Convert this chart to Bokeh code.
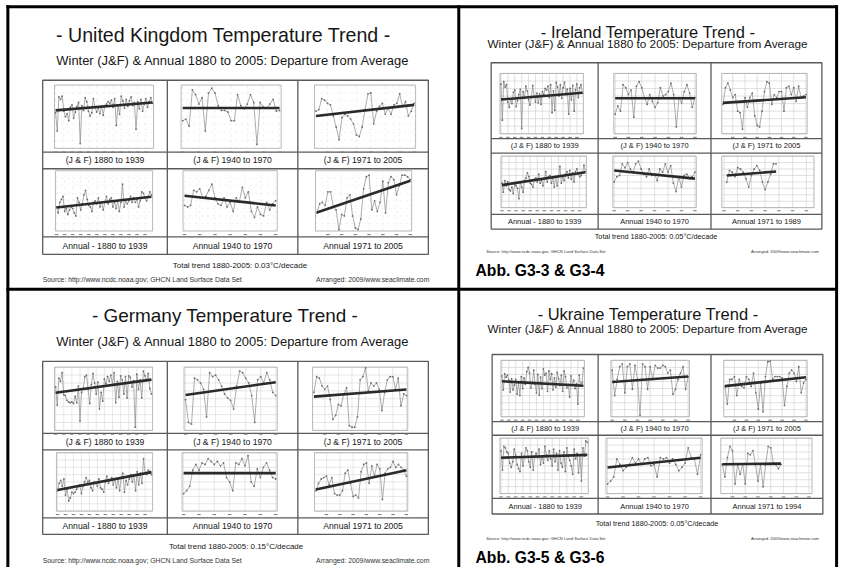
from bokeh.plotting import figure
from bokeh.models import Range1d
from bokeh.core.properties import value
from bokeh.embed import file_html
from bokeh.resources import INLINE

FONT = "Liberation Sans"
S = 841.0 / 857.0          # the 857x583 reference is drawn into an 841x567 figure

# ---------------- data (departure from average, deg C) ----------------
WINTER_RANGE = (-5.0, 3.0)
ANNUAL_RANGE = (-2.5, 1.5)
FIRST_YEARS = [1880, 1940, 1971]

JF_LABELS = ["(J & F) 1880 to 1939", "(J & F) 1940 to 1970", "(J & F) 1971 to 2005"]
UK_AN_LABELS = ["Annual - 1880 to 1939", "Annual 1940 to 1970", "Annual 1971 to 2005"]
IE_AN_LABELS = ["Annual - 1880 to 1939", "Annual 1940 to 1970", "Annual 1971 to 1989"]
DE_AN_LABELS = ["Annual - 1880 to 1939", "Annual 1940 to 1970", "Annual 1971 to 2005"]
UA_AN_LABELS = ["Annual - 1880 to 1939", "Annual 1940 to 1970", "Annual 1971 to 1994"]

TOTAL_TRENDS = {"UK": "0.03", "IE": "0.05", "DE": "0.15", "UA": "0.05"}

# United Kingdom
UK_JF_1 = [-0.5, -2.8, 1.5, 1.2, 1.6, -0.3, -1.0, -0.6, -1.5, 0.2,
           0.5, -1.2, -0.4, 0.3, 0.8, -4.4, 0.4, -0.2, 1.4, 0.9,
           -0.3, -0.9, -0.5, 1.3, 0.2, -0.4, 0.1, -0.6, 0.3, -0.8,
           0.4, 0.6, 0.9, 0.7, 1.1, 0.2, 1.3, -2.1, 0.5, -0.7,
           1.6, 1.0, 0.1, 1.2, 0.3, 1.0, 1.5, 0.4, 0.8, -2.6,
           0.9, 0.0, 1.2, -0.3, 0.6, 1.3, 0.2, 0.9, 1.4, 0.7]
UK_JF_2 = [-1.5, -1.3, -2.2, 2.4, 1.8, 0.6, 1.4, -2.8, 2.0, 2.6,
           2.0, 0.4, -0.2, -0.2, -0.4, -1.5, -1.5, 1.8, 0.4, 0.0,
           0.6, 1.8, 0.8, -4.5, 0.8, 0.2, 0.1, 0.6, 1.2, -0.3, -0.2]
UK_JF_3 = [-0.3, -0.1, 1.3, 1.1, 0.7, 0.5, -0.9, -2.3, -3.9, -1.1,
           -0.7, -0.9, -1.3, -1.9, -3.3, -3.5, -2.3, -0.1, 1.9, 2.0,
           -1.9, -0.3, 0.3, 0.7, -0.7, 0.1, -0.7, 0.5, 0.7, 1.9,
           0.3, 0.9, -0.9, -0.3, 0.7]
UK_AN_1 = [-0.9, -1.3, -0.6, -0.4, -0.2, -1.2, -1.0, -1.4, -1.1, -0.9,
           -1.0, -1.3, -1.5, -0.3, -0.6, -1.1, -0.7, -0.1, 0.2, -0.4,
           -0.8, -0.9, -1.2, -0.6, -0.5, -0.7, -0.3, -0.9, -0.6, -1.1,
           -0.6, -0.2, -0.7, -0.4, -0.3, -0.9, -0.6, -1.0, -0.5, -1.2,
           -0.6, 0.6, -0.9, -0.5, -0.7, -0.5, -0.2, -0.6, -0.3, -0.6,
           -0.4, -0.9, -0.5, 0.1, 0.0, -0.3, -0.5, -0.2, 0.1, -0.1]
UK_AN_2 = [-0.8, -0.9, -0.8, 0.2, 0.1, 0.3, -0.3, -0.2, 0.2, 0.6,
           -0.3, -0.7, -0.8, -0.3, -0.9, -0.6, -1.2, -0.3, -0.6, 0.4,
           -0.3, 0.1, -1.2, -1.6, -0.9, -1.4, -1.5, -0.6, -1.1, -0.7, -0.5]
UK_AN_3 = [-1.3, -0.7, -0.6, -0.8, 0.1, 0.1, -0.9, -1.1, -2.4, -1.4,
           -1.5, -0.3, -0.1, -1.5, -2.3, -2.4, -1.7, 0.3, 1.1, 1.2,
           -1.1, -0.5, -1.2, -0.6, 0.8, -1.3, 0.7, 1.1, 0.9, -0.1,
           0.5, 1.2, 1.2, 1.1, 0.9]
UK_TREND_START = [-0.2, 0.1, -0.9, -0.94, -0.16, -1.28]
UK_TREND_END = [0.8, 0.1, 0.5, -0.23, -0.81, 0.83]

# Ireland
IE_JF_1 = [1.6, -3.2, 1.9, 1.2, 1.5, -0.8, -1.5, -0.4, -1.0, 0.5,
           0.8, -1.4, -0.6, 0.2, 0.9, -4.3, 0.6, -0.3, 1.3, 0.7,
           -0.5, -1.2, -0.2, 1.4, 0.0, -0.8, 0.4, -0.9, 0.3, -1.1,
           0.6, 0.2, 1.0, 0.8, 1.3, -0.2, 1.5, -2.2, 0.7, -1.9,
           1.8, 1.2, 0.0, 1.5, -0.3, 1.1, 1.8, 0.2, 0.9, -2.4,
           1.0, -0.5, 1.4, -2.0, 0.8, 1.6, -0.2, 1.1, 1.5, 0.4]
IE_JF_2 = [-2.4, -1.3, -2.0, 1.5, 1.1, 0.2, 0.8, -2.8, 1.3, 1.9,
           1.1, -0.2, -1.1, 0.2, -0.7, -1.5, -0.9, 1.1, 0.0, 0.2,
           0.6, 1.7, 0.2, -4.1, -0.2, -0.9, 0.6, 1.5, 0.4, -1.5, -0.2]
IE_JF_3 = [-1.1, 1.1, 1.7, 0.8, -0.2, 0.2, -2.0, -2.2, -4.4, -0.2,
           -1.5, -0.2, 0.4, -2.6, -3.9, -4.1, -2.0, 0.6, 1.9, 1.7,
           -1.1, 0.2, -0.2, 0.6, 0.6, -2.0, 1.1, 1.3, 0.2, 1.1,
           -0.7, 1.3, -0.2, 0.0, 0.2]
IE_AN_1 = [-0.6, -1.3, -0.4, -0.8, -0.5, -1.1, -1.2, -0.9, -1.4, -0.7,
           -0.8, -1.0, -1.8, -0.5, -0.9, -1.3, -0.4, -0.2, 0.2, -0.1,
           -0.6, -0.7, -0.9, -0.3, -0.2, -0.5, 0.1, -0.6, -0.4, -0.8,
           -0.3, 0.3, -0.5, -0.1, 0.0, -0.6, -0.2, -0.9, -0.1, -0.8,
           -0.1, 0.7, -0.6, -0.1, -0.4, 0.1, 0.3, -0.2, 0.4, -0.3,
           0.2, -0.5, 0.3, 0.5, 0.1, -0.1, 0.0, 0.2, 0.8, 0.3]
IE_AN_2 = [-0.5, -0.1, 0.0, 0.9, 0.6, 1.0, 0.5, 0.25, 0.9, 1.1,
           0.5, 0.1, -0.1, 0.5, 0.0, 0.1, -0.4, 0.5, 0.25, 0.9,
           0.25, 0.75, -0.6, -1.25, -0.1, -0.9, 0.0, 0.1, -0.25, -0.1, 0.25]
IE_AN_3 = [-0.5, 0.4, 0.25, -0.1, 0.6, 0.5, 0.25, -0.25, -0.9, 0.0,
           0.5, 0.75, 0.4, -0.5, -1.1, -0.5, 0.1, 0.9, 0.9]
IE_TREND_START = [-0.46, -0.3, -0.9, -0.75, 0.38, 0.0]
IE_TREND_END = [0.43, -0.3, -0.16, 0.25, -0.25, 0.3]

# Germany
DE_JF_1 = [0.5, -1.8, 1.6, 1.2, 2.3, -0.5, -0.6, -1.2, -1.4, -1.5,
           -1.4, -1.6, -0.7, -1.5, 0.6, -3.8, -0.2, 0.3, 1.8, 2.0,
           0.2, -1.6, 0.8, 2.2, 1.0, -0.4, 1.1, -2.3, -0.2, -1.3,
           1.5, 0.9, 1.8, 1.2, 2.0, 0.8, 2.3, -1.5, 1.2, -0.8,
           1.9, 1.4, -0.4, 1.8, -0.9, 1.9, 1.7, 0.5, 1.3, -4.6,
           2.1, 0.2, 1.4, -0.9, 2.5, 1.9, 1.3, 2.2, 0.3, -0.4]
DE_JF_2 = [-1.1, -4.0, -4.2, 1.6, 1.4, 1.0, 0.2, -3.3, 2.3, 1.8,
           2.0, 1.4, 0.6, -0.4, -0.9, -1.2, -2.3, 0.6, 2.5, 2.3,
           1.6, 1.0, -0.6, -4.0, 1.4, 1.8, 1.0, 2.3, 1.4, -0.2, -0.6]
DE_JF_3 = [-0.2, 1.8, 1.6, 0.6, 0.2, 0.6, -1.1, -3.6, -3.1, -1.7,
           -1.9, -0.4, 0.4, -4.4, -4.6, -4.6, -3.3, 1.4, 1.8, 2.9,
           0.0, 1.0, 0.6, 1.0, 0.2, -2.5, -0.2, 1.4, 1.8, 1.8,
           0.2, 1.6, -1.9, -0.4, -0.6]
DE_AN_1 = [-1.1, -0.6, -0.4, -0.8, -0.3, -1.4, -1.0, -1.8, -1.6, -1.2,
           -1.3, -1.2, -1.0, -0.8, -0.7, -1.3, -0.8, -0.5, -0.2, -0.5,
           -0.4, -0.9, -1.1, -0.5, -0.6, -0.8, -0.3, -0.9, -1.0, -1.2,
           -0.5, -0.1, -0.6, -0.4, -0.2, -0.7, -0.3, -0.9, -0.3, -1.1,
           -0.2, 0.1, -1.2, -0.4, -0.7, -0.3, 0.0, -0.5, 0.0, -1.1,
           0.2, -0.7, 0.1, -0.6, 1.1, 0.1, 0.0, 0.3, 0.2, 0.0]
DE_AN_2 = [-1.3, -1.1, -0.8, 0.3, 0.7, 0.3, 0.8, 0.7, 1.1, 0.9,
           0.7, 0.9, 0.6, 0.8, -0.2, -0.5, -1.1, 0.8, 0.7, 1.1,
           0.6, 1.3, -0.5, -0.8, 0.4, -0.2, 0.5, 0.8, 0.3, -0.2, -0.3]
DE_AN_3 = [-1.1, -0.6, -0.3, -0.2, -0.1, -0.7, -0.2, -1.3, -1.4, -1.4,
           -1.1, 0.1, 0.3, -0.6, -1.5, -1.4, -1.6, 0.2, 0.7, 0.8,
           -0.6, 0.6, -0.1, 0.7, 0.4, -1.7, 0.1, 0.4, 0.5, 0.9,
           0.5, 0.7, 0.5, 0.3, -0.1]
DE_TREND_START = [-0.23, -0.52, -0.73, -1.06, 0.1, -1.02]
DE_TREND_END = [1.42, 1.09, 0.18, 0.17, 0.1, 0.3]

# Ukraine
UA_JF_1 = [0.8, -1.2, 1.1, 0.6, 0.9, 0.2, -1.5, 0.4, -1.2, -0.5,
           0.3, -1.8, -0.2, -2.0, 0.7, -1.0, 0.5, -0.4, 1.4, 2.0,
           1.2, -0.9, -0.2, 1.6, -0.4, -1.6, 1.0, -1.9, 0.6, -1.0,
           1.8, 0.9, 1.2, -1.4, 1.5, 0.3, 1.1, -1.2, 0.5, -0.8,
           1.3, 0.4, -0.6, 0.9, -1.4, 1.5, 0.7, -0.9, -0.4, -2.2,
           0.8, -0.5, 0.2, -1.0, -0.3, -3.2, 0.9, -0.6, -0.2, 1.9]
UA_JF_2 = [1.6, -2.0, 0.3, 2.1, 2.5, -1.6, 2.1, 2.5, -1.1, 2.3,
           0.3, -4.8, 2.5, 2.1, -1.1, 2.1, 0.3, 2.3, 1.9, 1.9,
           2.3, 2.1, 1.2, 1.6, -1.8, -1.1, 0.3, 1.2, 2.1, -1.1, 0.7]
UA_JF_3 = [-0.7, -3.2, 0.3, 0.3, 0.7, -2.0, 0.3, -0.7, -0.9, 0.7,
           0.3, -0.7, 1.2, -1.6, -3.9, -0.2, -4.3, 0.7, 2.8, 2.9,
           0.3, 0.7, 0.7, 0.7, 0.5, -3.4, -0.7, 1.2, 1.6, 1.2,
           0.0, 2.1, -1.6, -0.2, 0.3]
UA_AN_1 = [0.6, -0.8, 0.9, 0.8, 0.5, 0.4, -0.3, -0.6, -0.2, 0.7,
           0.3, -0.4, -0.7, -0.9, 0.4, -0.5, 0.1, 0.8, 0.6, -0.2,
           -0.6, 0.5, -0.8, 0.2, 0.4, 0.1, 0.7, -0.4, 0.2, -0.3,
           0.9, 0.3, -0.1, 0.6, 0.0, -0.5, 0.7, -0.2, 0.4, -0.8,
           0.6, -0.3, -0.6, 0.5, -0.9, 0.8, 0.2, -0.1, -0.5, -1.1,
           0.7, 0.0, 0.4, -1.0, 0.3, -1.6, 0.8, 0.2, 1.3, 1.2]
UA_AN_2 = [-1.8, -1.6, -1.3, 0.0, -0.4, -0.85, -0.6, -0.4, 0.1, -0.3,
           0.0, -0.4, 0.0, 0.1, -0.5, -0.4, -1.3, 0.1, 0.0, 0.1,
           -0.3, 0.0, -0.4, -0.85, -0.6, -0.3, 0.8, 0.1, 0.0, -1.1, 0.3]
UA_AN_3 = [-0.4, -1.3, 0.1, 0.9, 0.6, -1.8, -0.4, -1.1, -0.4, -1.8,
           0.4, 0.3, 0.6, -0.4, -1.6, -0.4, -2.0, -0.4, 0.9, 0.8,
           -0.3, -0.4, -0.7, -0.4]
UA_TREND_START = [0.03, -0.06, -0.66, 0.09, -0.62, -0.38]
UA_TREND_END = [-0.6, 0.71, 0.6, 0.29, 0.09, -0.34]

SOURCE_TEXT = "Source: http://www.ncdc.noaa.gov; GHCN Land Surface Data Set"
ARRANGED_TEXT = "Arranged: 2009/www.seaclimate.com"
SUBTITLE = "Winter (J&F) & Annual 1880 to 2005: Departure from Average"

# ---------------- layout (reference pixel positions) ----------------
LEFT_X = [(1879.3, 1939.7), (1939.5, 1970.5), (1970.5, 2005.5)]

PANELS = [
    dict(key="UK", title="- United Kingdom  Temperature Trend -",
         series=[UK_JF_1, UK_JF_2, UK_JF_3, UK_AN_1, UK_AN_2, UK_AN_3],
         t0=UK_TREND_START, t1=UK_TREND_END, labels=JF_LABELS + UK_AN_LABELS,
         title_xy=(230, 35), title_size=20,
         sub_xy=(237, 61.5), sub_size=13.2,
         box=(43, 436, 82), cols=(170, 303), strips=[(156, 173), (243, 261)],
         fy=[(87, 152), (175, 237)],
         fx=[[(55, 156), (184, 286), (320, 423)], [(56, 155), (186, 282), (321, 419)]],
         xr=[LEFT_X, LEFT_X], label_size=8.8,
         total_xy=(244, 272), total_size=8.1, src=(43, 437, 287), src_size=7.0,
         abb=None, grid="#e3e3e3", grid_dash="dotted"),
    dict(key="DE", title="- Germany Temperature Trend -",
         series=[DE_JF_1, DE_JF_2, DE_JF_3, DE_AN_1, DE_AN_2, DE_AN_3],
         t0=DE_TREND_START, t1=DE_TREND_END, labels=JF_LABELS + DE_AN_LABELS,
         title_xy=(229, 323.5), title_size=19.3,
         sub_xy=(237, 350.5), sub_size=13.2,
         box=(43, 436, 371), cols=(170, 303), strips=[(445, 462), (532, 549)],
         fy=[(377, 442), (465, 525)],
         fx=[[(55, 155), (187, 282), (318, 415)], [(57, 155), (185, 282), (320, 415)]],
         xr=[LEFT_X, LEFT_X], label_size=8.8,
         total_xy=(240, 561), total_size=8.1, src=(43, 437, 576), src_size=7.0,
         abb=None, grid="#d6d6d6", grid_dash="solid"),
    dict(key="IE", title="- Ireland Temperature Trend -",
         series=[IE_JF_1, IE_JF_2, IE_JF_3, IE_AN_1, IE_AN_2, IE_AN_3],
         t0=IE_TREND_START, t1=IE_TREND_END, labels=JF_LABELS + IE_AN_LABELS,
         title_xy=(660, 32.5), title_size=16.8,
         sub_xy=(660, 44.5), sub_size=12,
         box=(500, 837, 64), cols=(609, 724), strips=[(142, 157), (220, 235)],
         fy=[(75, 137), (160, 213)],
         fx=[[(509, 594), (625, 709), (735, 822)], [(510, 597), (624, 709), (735, 829)]],
         xr=[LEFT_X, [LEFT_X[0], LEFT_X[1], (1969.2, 2002.8)]], label_size=7.6,
         total_xy=(668, 243), total_size=7.4, src=(495, 834, 258), src_size=4.2,
         abb=("Abb. G3-3 & G3-4", 484, 278), grid="#cdcdcd", grid_dash="solid"),
    dict(key="UA", title="- Ukraine Temperature Trend -",
         series=[UA_JF_1, UA_JF_2, UA_JF_3, UA_AN_1, UA_AN_2, UA_AN_3],
         t0=UA_TREND_START, t1=UA_TREND_END, labels=JF_LABELS + UA_AN_LABELS,
         title_xy=(660, 322.5), title_size=16.8,
         sub_xy=(660, 337), sub_size=12,
         box=(501, 838, 364), cols=(609, 724), strips=[(433, 447), (512, 528)],
         fy=[(370, 428), (450, 507)],
         fx=[[(510, 595), (622, 702), (737, 822)], [(509, 599), (617, 715), (734, 827)]],
         xr=[LEFT_X, [LEFT_X[0], LEFT_X[1], (1970.4, 2006.2)]], label_size=7.6,
         total_xy=(669, 538), total_size=7.4, src=(495, 834, 553), src_size=4.2,
         abb=("Abb. G3-5 & G3-6", 484, 573), grid="#cdcdcd", grid_dash="solid"),
]

# ---------------- figure ----------------
p = figure(width=841, height=567, x_range=Range1d(0, 857), y_range=Range1d(583, 0),
           output_backend="svg", toolbar_location=None,
           x_axis_location=None, y_axis_location=None, min_border=0)
p.outline_line_color = None
p.background_fill_color = "white"
p.border_fill_color = "white"
p.grid.visible = False


def put_text(x, y, s, size, align="center", style="normal", color="#161616"):
    p.text(x=[x], y=[y], text=[s], text_font=value(FONT),
           text_font_size=value(f"{size * S:.2f}px"), text_font_style=style,
           text_align=align, text_baseline="middle", text_color=color)


def mini_plot(fx, fy, xr, yr, first_year, vals, t0, t1, grid, grid_dash):
    x0, x1 = fx
    ytop, ybot = fy
    sub = p.subplot(x_source=Range1d(*xr), y_source=Range1d(*yr),
                    x_target=Range1d(x0, x1), y_target=Range1d(ybot, ytop))
    xt = [t for t in range(1870, 2011, 5) if xr[0] <= t <= xr[1]]
    step = 1.0 if yr == WINTER_RANGE else 0.5
    yt = []
    v = yr[0]
    while v <= yr[1] + 1e-9:
        yt.append(v)
        v += step
    sub.segment(x0=xt, x1=xt, y0=[yr[0]] * len(xt), y1=[yr[1]] * len(xt),
                line_color=grid, line_width=0.6, line_dash=grid_dash)
    sub.segment(x0=[xr[0]] * len(yt), x1=[xr[1]] * len(yt), y0=yt, y1=yt,
                line_color=grid, line_width=0.6, line_dash=grid_dash)
    p.quad(left=[x0], right=[x1], top=[ytop], bottom=[ybot], fill_color=None,
           line_color="#a8a8a8", line_width=0.8)
    # tiny year tick labels (illegible in the original) shown as short dashes
    sub.scatter(x=xt, y=[yr[0] - 0.06 * (yr[1] - yr[0])] * len(xt), marker="dash",
                size=3.5, line_color="#777777", line_width=1)
    years = list(range(first_year, first_year + len(vals)))
    sub.line(x=years, y=vals, line_color="#8a8a8a", line_width=0.7)
    sub.scatter(x=years, y=vals, size=1.8, fill_color="#6e6e6e", line_color=None)
    sub.line(x=[years[0], years[-1]], y=[t0, t1], line_color="#2a2a2a", line_width=2.6)


BOX = "#5a5a5a"
for P in PANELS:
    put_text(*P["title_xy"], P["title"], P["title_size"])
    put_text(*P["sub_xy"], SUBTITLE, P["sub_size"])
    bx0, bx1, by0 = P["box"]
    (s1a, s1b), (s2a, s2b) = P["strips"]
    c1, c2 = P["cols"]
    p.quad(left=[bx0], right=[bx1], top=[by0], bottom=[s2b], fill_color=None,
           line_color=BOX, line_width=1.3)
    p.segment(x0=[c1, c2], x1=[c1, c2], y0=[by0, by0], y1=[s2b, s2b],
              line_color=BOX, line_width=1.3)
    p.segment(x0=[bx0] * 3, x1=[bx1] * 3, y0=[s1a, s1b, s2a], y1=[s1a, s1b, s2a],
              line_color=BOX, line_width=1.3)
    cell_x = [(bx0, c1), (c1, c2), (c2, bx1)]
    for r in range(2):
        yr = WINTER_RANGE if r == 0 else ANNUAL_RANGE
        for c in range(3):
            i = r * 3 + c
            mini_plot(P["fx"][r][c], P["fy"][r], P["xr"][r][c], yr, FIRST_YEARS[c],
                      P["series"][i], P["t0"][i], P["t1"][i], P["grid"], P["grid_dash"])
            lx = (cell_x[c][0] + cell_x[c][1]) / 2
            ly = (P["strips"][r][0] + P["strips"][r][1]) / 2
            put_text(lx, ly, P["labels"][i], P["label_size"])
    put_text(*P["total_xy"], f"Total trend 1880-2005: {TOTAL_TRENDS[P['key']]}\u00b0C/decade",
             P["total_size"])
    sx, ax, sy = P["src"]
    put_text(sx, sy, SOURCE_TEXT, P["src_size"], align="left", color="#333333")
    put_text(ax, sy, ARRANGED_TEXT, P["src_size"], align="right", color="#333333")
    if P["abb"]:
        put_text(P["abb"][1], P["abb"][2], P["abb"][0], 16, align="left", style="bold",
                 color="#000000")

# thick black frame lines between the four figures
p.segment(x0=[6, 6, 7.5, 467, 852], x1=[853, 853, 7.5, 467, 852],
          y0=[6.5, 297, 5, 5, 5], y1=[6.5, 297, 583, 583, 583],
          line_color="black", line_width=3)

open("out.html", "w").write(file_html(p, INLINE))
